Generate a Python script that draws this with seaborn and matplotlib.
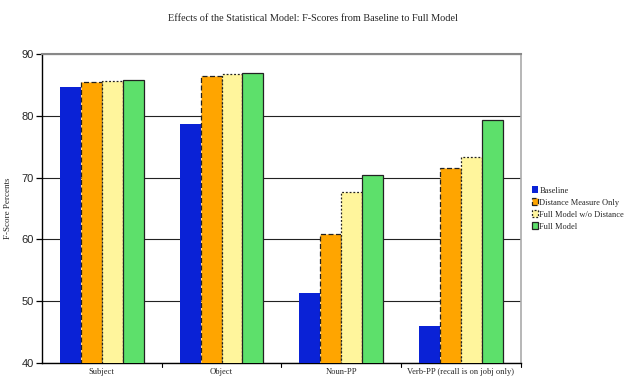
import matplotlib
matplotlib.use("Agg")
import matplotlib.pyplot as plt
from matplotlib.patches import Patch
import seaborn as sns
import pandas as pd

categories = ["Subject", "Object", "Noun-PP", "Verb-PP (recall is on jobj only)"]
series_names = ["Baseline", "Distance Measure Only", "Full Model w/o Distance", "Full Model"]
baseline = [84.7, 78.7, 51.3, 46.0]
distance_only = [85.4, 86.4, 60.9, 71.6]
full_wo_distance = [85.6, 86.8, 67.6, 73.3]
full_model = [85.8, 86.9, 70.4, 79.4]

colors = ["#0a22d6", "#ffa500", "#fff59c", "#5de06b"]
edge_styles = [None, (0, (4, 2)), (0, (1.5, 1.5)), "solid"]

rows = []
for name, vals in zip(series_names, [baseline, distance_only, full_wo_distance, full_model]):
    for cat, v in zip(categories, vals):
        rows.append({"category": cat, "series": name, "value": v})
df = pd.DataFrame(rows)

sns.set_style("white")
plt.rcParams["font.family"] = ["Liberation Serif", "DejaVu Serif"]

fig = plt.figure(figsize=(6.26, 3.78), dpi=100)
ax = fig.add_axes([0.067, 0.04, 0.765, 0.817])

sns.barplot(data=df, x="category", y="value", hue="series", palette=colors,
            width=0.7, gap=0, saturation=1, ax=ax, zorder=3, legend=False)

# Outline each series the way the legend shows it
for container, style in zip(ax.containers, edge_styles):
    for bar in container:
        if style is None:
            bar.set_edgecolor("none")
            bar.set_linewidth(0)
        else:
            bar.set_edgecolor("#222222")
            bar.set_linewidth(0.9)
            bar.set_linestyle(style)

ax.set_ylim(40, 90)
ax.set_yticks([40, 50, 60, 70, 80, 90])
ax.set_xlim(-0.5, 3.5)
ax.yaxis.grid(True, color="#222222", linewidth=0.8, zorder=0)
ax.set_axisbelow(True)

for lbl in ax.get_yticklabels():
    lbl.set_family("Liberation Sans")
    lbl.set_fontsize(8)
ax.tick_params(axis="y", direction="out", length=4, width=0.9, color="black", pad=2, left=True)
ax.set_xticks([0, 1, 2, 3])
ax.set_xticklabels(categories, fontsize=6.1)
ax.tick_params(axis="x", length=0, pad=4)
# Short tick marks between the category groups
for xb in [0.5, 1.5, 2.5, 3.5]:
    ax.plot([xb, xb], [0, -0.012], transform=ax.get_xaxis_transform(),
            color="black", lw=0.8, clip_on=False)

ax.set_xlabel("")
ax.set_ylabel("F-Score Percents", fontsize=6.5)
ax.yaxis.set_label_coords(-0.063, 0.5)

ax.spines["left"].set_color("black")
ax.spines["left"].set_linewidth(1.0)
ax.spines["bottom"].set_color("black")
ax.spines["bottom"].set_linewidth(1.0)
ax.spines["top"].set_color("#888888")
ax.spines["top"].set_linewidth(1.5)
ax.spines["right"].set_color("#aaaaaa")
ax.spines["right"].set_linewidth(1.2)

handles = []
for c, style in zip(colors, edge_styles):
    if style is None:
        handles.append(Patch(facecolor=c, edgecolor="none"))
    else:
        handles.append(Patch(facecolor=c, edgecolor="#222222", linewidth=0.9, linestyle=style))
ax.legend(handles, series_names, loc="center left", bbox_to_anchor=(1.017, 0.50),
          frameon=False, fontsize=6.0, handlelength=0.7, handleheight=0.9,
          handletextpad=0.15, labelspacing=0.45, borderaxespad=0)

fig.suptitle("Effects of the Statistical Model: F-Scores from Baseline to Full Model",
             fontsize=7.4, y=0.962, x=0.5)

fig.savefig("out.png", dpi=100)
